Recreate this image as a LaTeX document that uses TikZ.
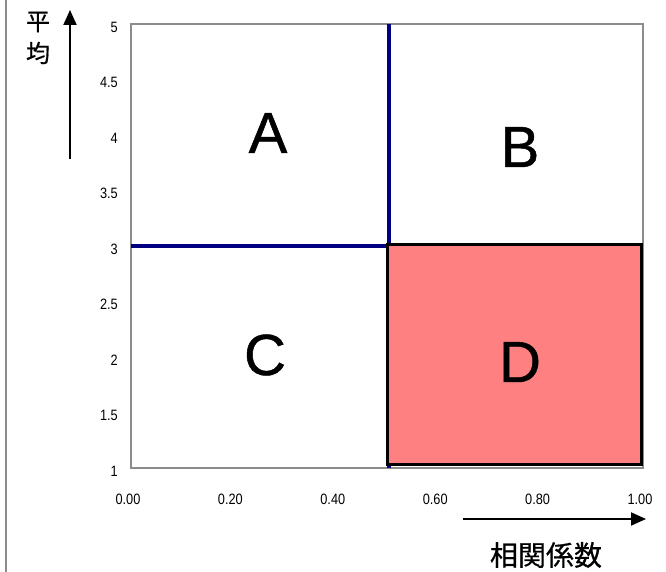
\documentclass[tikz,border=0pt]{standalone}
\usepackage{fontspec}
\setmainfont{Liberation Sans}
\newfontfamily\jpfont[FakeBold=0.6]{Noto Sans CJK JP}
\newfontfamily\bigfont[FakeBold=0.8]{Liberation Sans}
\newfontfamily\tickfont[FakeStretch=0.85]{Liberation Sans}
\usetikzlibrary{arrows.meta}
\definecolor{framegray}{HTML}{8C8C8C}
\definecolor{bluel}{HTML}{000080}
\definecolor{redfill}{HTML}{FF8080}
\tikzset{
  ylab/.style={anchor=east,inner sep=0pt,font=\tickfont\fontsize{15}{17}\selectfont},
  xlab/.style={anchor=center,inner sep=0pt,font=\tickfont\fontsize{15}{17}\selectfont},
  big/.style={anchor=center,inner sep=0pt,font=\bigfont\fontsize{58}{62}\selectfont},
  axisarrow/.style={line width=2pt,-{Triangle[length=15pt,width=13pt]}},
}
\begin{document}
\begin{tikzpicture}[x=1pt,y=-1pt]
\useasboundingbox (0,0) rectangle (666,572);
\fill[white] (0,0) rectangle (666,572);
\draw[framegray,line width=2pt] (6,-2) -- (6,574);
% plot frame
\draw[framegray,line width=2pt] (131,24) rectangle (643,468);
% blue lines
\draw[bluel,line width=4pt] (389,24) -- (389,468);
\draw[bluel,line width=4pt] (131,246) -- (643,246);
% red quadrant
\draw[black,fill=redfill,line width=3pt] (387,244) rectangle (641,464);
% letters
\node[big] (A) at (268,133) {A};
\node[big] (B) at (520,147) {B};
\node[big] (C) at (265,355) {C};
\node[big] (D) at (520,362) {D};
% y tick labels
\node[ylab] (y5) at (118,27) {5};
\node[ylab] (y45) at (118,82) {4.5};
\node[ylab] (y4) at (118,138) {4};
\node[ylab] (y35) at (118,193) {3.5};
\node[ylab] (y3) at (118,249) {3};
\node[ylab] (y25) at (118,304) {2.5};
\node[ylab] (y2) at (118,360) {2};
\node[ylab] (y15) at (118,415) {1.5};
\node[ylab] (y1) at (118,471) {1};
% x tick labels
\node[xlab] (x0) at (128,499) {0.00};
\node[xlab] (x2) at (230.4,499) {0.20};
\node[xlab] (x4) at (332.8,499) {0.40};
\node[xlab] (x6) at (435.2,499) {0.60};
\node[xlab] (x8) at (537.6,499) {0.80};
\node[xlab] (x10) at (640,499) {1.00};
% axis arrows
\coordinate (va) at (70,159);
\coordinate (vb) at (70,10);
\draw[axisarrow] (va) -- (vb);
\coordinate (ha) at (463,519);
\coordinate (hb) at (646,519);
\draw[axisarrow] (ha) -- (hb);
% axis titles
\node[inner sep=0pt,font=\jpfont\fontsize{24}{26}\selectfont] (t1) at (38,22) {平};
\node[inner sep=0pt,font=\jpfont\fontsize{24}{26}\selectfont] (t2) at (38,53) {均};
\node[inner sep=0pt,font=\jpfont\fontsize{28}{30}\selectfont] (t3) at (546,555) {相関係数};
\end{tikzpicture}
\end{document}
